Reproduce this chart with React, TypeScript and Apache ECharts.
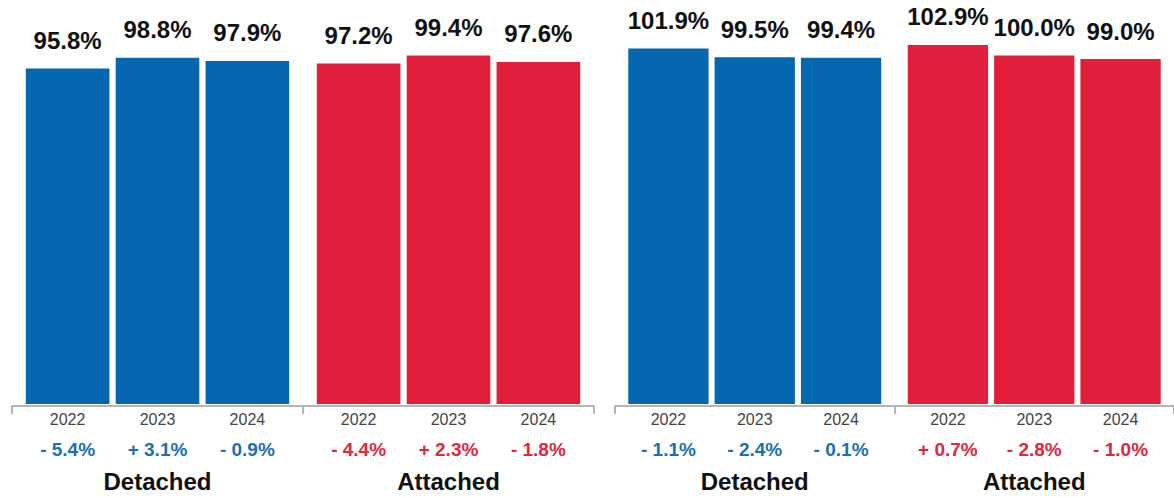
import React, { useEffect, useRef } from "react";
import * as echarts from "echarts";

const years = ["2022", "2023", "2024"];
const groups = ["Detached", "Attached"];

// Left panel values (%)
const leftDetached = [95.8, 98.8, 97.9];
const leftAttached = [97.2, 99.4, 97.6];
const leftDetachedChange = [-5.4, 3.1, -0.9];
const leftAttachedChange = [-4.4, 2.3, -1.8];

// Right panel values (%)
const rightDetached = [101.9, 99.5, 99.4];
const rightAttached = [102.9, 100.0, 99.0];
const rightDetachedChange = [-1.1, -2.4, -0.1];
const rightAttachedChange = [0.7, -2.8, -1.0];

// Value-axis ranges
const leftRange = [2.3, 109.3];
const rightRange = [3.7, 109.8];

const BLUE = "#0567b0";
const RED = "#e21f3a";
const BLUE_TXT = "#1a6fb5";
const RED_TXT = "#e3253d";
const FONT = "'Liberation Sans', Arial, Helvetica, sans-serif";

const fmtChange = (v: number) => (v >= 0 ? "+ " : "- ") + Math.abs(v).toFixed(1) + "%";

const panels = [
  { det: leftDetached, att: leftAttached, detC: leftDetachedChange, attC: leftAttachedChange, range: leftRange },
  { det: rightDetached, att: rightAttached, detC: rightDetachedChange, attC: rightAttachedChange, range: rightRange },
];

export default function App() {
  const ref = useRef<HTMLDivElement>(null);
  useEffect(() => {
    if (!ref.current) return;
    const chart = echarts.init(ref.current, null, { renderer: "svg" });
    const grids = [
      { left: 12, top: 20, width: 582, height: 384 },
      { left: 615, top: 20, width: 564, height: 384 },
    ];
    const xAxis: any[] = [];
    const yAxis: any[] = [];
    const series: any[] = [];
    panels.forEach((p, pi) => {
      xAxis.push({
        type: "category",
        gridIndex: pi,
        data: groups,
        offset: 2,
        axisLine: { show: true, lineStyle: { color: "#b5b5b5", width: 2 } },
        axisTick: { show: true, length: 8, lineStyle: { color: "#b5b5b5", width: 2 } },
        axisLabel: { margin: 63, fontSize: 24, fontWeight: "bold", color: "#111", fontFamily: FONT },
      });
      xAxis.push({ type: "category", gridIndex: pi, data: groups, show: false });
      yAxis.push({
        type: "value",
        gridIndex: pi,
        min: p.range[0],
        max: p.range[1],
        show: false,
        splitLine: { show: false },
      });
      years.forEach((yr, i) => {
        series.push({
          type: "bar",
          name: yr,
          xAxisIndex: pi * 2,
          yAxisIndex: pi,
          barGap: "7.5%",
          barCategoryGap: "9.5%",
          data: [
            { value: p.det[i], itemStyle: { color: BLUE } },
            { value: p.att[i], itemStyle: { color: RED } },
          ],
          label: {
            show: true,
            position: "top",
            distance: 16,
            fontSize: 24,
            fontWeight: "bold",
            color: "#111",
            fontFamily: FONT,
            formatter: (d: any) => Number(d.value).toFixed(1) + "%",
          },
        });
      });
      years.forEach((yr, i) => {
        series.push({
          type: "bar",
          name: yr + " labels",
          xAxisIndex: pi * 2 + 1,
          yAxisIndex: pi,
          barGap: "7.5%",
          barCategoryGap: "9.5%",
          silent: true,
          itemStyle: { color: "rgba(0,0,0,0)" },
          data: [p.det[i], p.att[i]],
          label: {
            show: true,
            position: "bottom",
            distance: 3,
            fontFamily: FONT,
            formatter: (d: any) => {
              const ch = d.dataIndex === 0 ? p.detC[i] : p.attC[i];
              const st = d.dataIndex === 0 ? "cb" : "cr";
              return `{y|${yr}}\n{${st}|${fmtChange(ch)}}`;
            },
            rich: {
              y: { fontSize: 16, color: "#444", lineHeight: 24, fontFamily: FONT },
              cb: { fontSize: 19, fontWeight: "bold", color: BLUE_TXT, lineHeight: 36, fontFamily: FONT },
              cr: { fontSize: 19, fontWeight: "bold", color: RED_TXT, lineHeight: 36, fontFamily: FONT },
            },
          },
        });
      });
    });
    chart.setOption({
      animation: false,
      backgroundColor: "#ffffff",
      textStyle: { fontFamily: FONT },
      grid: grids,
      xAxis,
      yAxis,
      series,
    });
    return () => chart.dispose();
  }, []);
  return (
    <div
      ref={ref}
      style={{ position: "absolute", left: 0, top: 0, width: 1174, height: 498 }}
    />
  );
}
